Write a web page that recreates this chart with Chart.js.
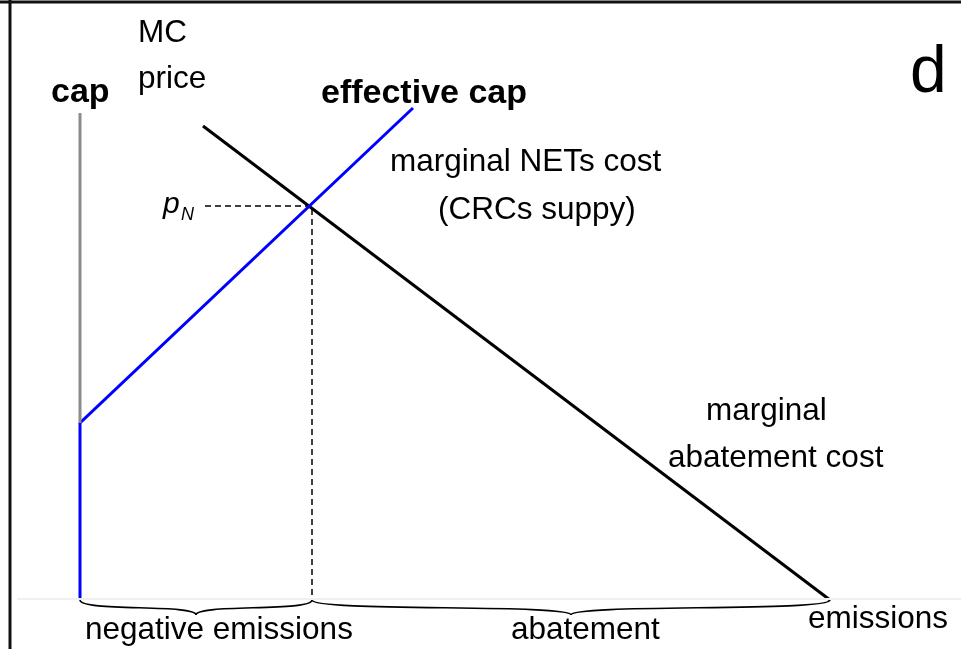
<!DOCTYPE html>
<html lang="en">
<head>
    <meta charset="UTF-8">
    <title>Effective cap</title>
    <script src="https://cdn.jsdelivr.net/npm/chart.js"></script>
    <style>
        body {
            margin: 0;
            background-color: #ffffff;
        }
    </style>
</head>
<body>
    <canvas id="capChart" width="961" height="649"></canvas>

    <script>
        // schematic units: x = emissions (cap at 0), y = price
        const capX = [0, 0];
        const capY = [1.77, 4.87];
        const effCapX = [0, 0, 3.33];
        const effCapY = [0, 1.77, 4.92];
        const macX = [1.23, 7.50];
        const macY = [4.74, 0];
        const pNX = [1.25, 2.32, 2.32];
        const pNY = [3.94, 3.94, 0];
        const axisX = [-0.63, 8.81];
        const axisY = [0.01, 0.01];
        const braceStart = [0, 2.32];
        const braceEnd = [2.32, 7.50];
        const labels = ["MC", "price", "cap", "effective cap", "d", "marginal NETs cost", "(CRCs suppy)",
            "marginal", "abatement cost", "negative emissions", "abatement", "emissions"];

        function pts(xs, ys) {
            return xs.map((x, i) => ({ x: x, y: ys[i] }));
        }

        function line(data, color, width, dash) {
            return {
                data: data,
                showLine: true,
                borderColor: color,
                borderWidth: width,
                borderDash: dash || [],
                pointRadius: 0,
                fill: false,
                tension: 0
            };
        }

        const textPlugin = {
            id: "textPlugin",
            afterDatasetsDraw(chart) {
                const ctx = chart.ctx;
                const sx = chart.scales.x;
                const sy = chart.scales.y;
                ctx.save();

                // braces under the emissions axis
                ctx.strokeStyle = "#000000";
                ctx.lineWidth = 1.6;
                const y0 = sy.getPixelForValue(0);
                const h = 15;
                braceStart.forEach((b, i) => {
                    const x1 = sx.getPixelForValue(b);
                    const x2 = sx.getPixelForValue(braceEnd[i]);
                    const xm = (x1 + x2) / 2;
                    ctx.beginPath();
                    ctx.moveTo(x1, y0);
                    ctx.bezierCurveTo(x1, y0 + h * 0.8, xm, y0 + h * 0.25, xm, y0 + h);
                    ctx.bezierCurveTo(xm, y0 + h * 0.25, x2, y0 + h * 0.8, x2, y0);
                    ctx.stroke();
                });

                // labels, positions in pixels
                const normal = "31.5px 'Liberation Sans', Arial, sans-serif";
                const bold = "bold 34px 'Liberation Sans', Arial, sans-serif";
                const pos = [
                    [138, 42, normal], [138, 88, normal], [51, 102, bold], [321, 103, bold],
                    [910, 92, "66px 'Liberation Sans', Arial, sans-serif"],
                    [390, 171, normal], [438, 219, normal], [706, 420, normal], [668, 467, normal],
                    [85, 639, normal], [511, 639, normal], [808, 628, normal]
                ];
                ctx.fillStyle = "#000000";
                ctx.textAlign = "left";
                ctx.textBaseline = "alphabetic";
                labels.forEach((t, i) => {
                    ctx.font = pos[i][2];
                    ctx.fillText(t, pos[i][0], pos[i][1]);
                });

                // p_N
                ctx.font = "italic 30px 'Liberation Sans', Arial, sans-serif";
                ctx.fillText("p", 163, 213);
                ctx.font = "italic 18px 'Liberation Sans', Arial, sans-serif";
                ctx.fillText("N", 181, 220);

                // frame
                ctx.strokeStyle = "#111111";
                ctx.lineWidth = 3;
                ctx.beginPath();
                ctx.moveTo(0, 2);
                ctx.lineTo(961, 2);
                ctx.moveTo(10, 0);
                ctx.lineTo(10, 649);
                ctx.stroke();
                ctx.restore();
            }
        };

        new Chart(document.getElementById("capChart"), {
            type: "scatter",
            data: {
                datasets: [
                    line(pts(axisX, axisY), "#f0f0f0", 2),
                    line(pts(capX, capY), "#8c8c8c", 3),
                    line(pts(effCapX, effCapY), "#0000ff", 3),
                    line(pts(macX, macY), "#000000", 3),
                    line(pts(pNX, pNY), "#000000", 1.5, [6, 4])
                ]
            },
            options: {
                responsive: false,
                animation: false,
                layout: { padding: 0 },
                plugins: {
                    legend: { display: false },
                    tooltip: { enabled: false }
                },
                scales: {
                    x: { type: "linear", display: false, min: -0.80, max: 8.81 },
                    y: { type: "linear", display: false, min: -0.49, max: 6.00 }
                }
            },
            plugins: [textPlugin]
        });
    </script>
</body>
</html>
